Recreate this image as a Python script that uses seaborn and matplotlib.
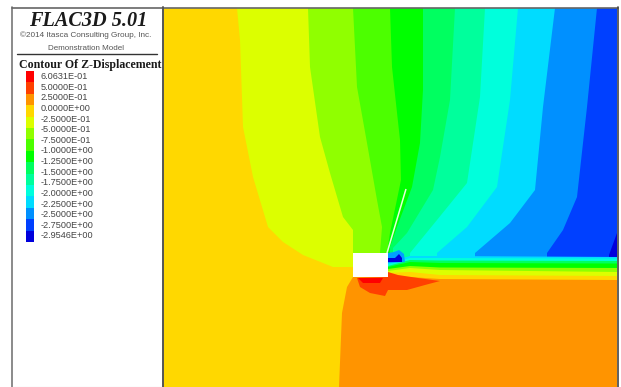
import numpy as np
import matplotlib
matplotlib.use("Agg")
import matplotlib.pyplot as plt
from matplotlib.colors import ListedColormap
import seaborn as sns

# Legend values and colours (top to bottom)
level_labels = ["6.0631E-01", "5.0000E-01", "2.5000E-01", "0.0000E+00", "-2.5000E-01",
                "-5.0000E-01", "-7.5000E-01", "-1.0000E+00", "-1.2500E+00", "-1.5000E+00",
                "-1.7500E+00", "-2.0000E+00", "-2.2500E+00", "-2.5000E+00", "-2.7500E+00",
                "-2.9546E+00"]
band_colors = ["#ff0000", "#ff4000", "#ff9400", "#ffd800", "#dcff00", "#90ff00", "#4cff00",
               "#00ff00", "#00ff60", "#00ff9c", "#00ffdc", "#00dcff", "#0090ff", "#0040ff",
               "#0000dc"]

# Contour boundaries above the strip
b_yellow = [(237, 8), (240, 40), (243, 127), (253, 177), (268, 227), (283, 242), (303, 255), (333, 267), (353, 267)]
b_lime = [(308, 8), (310, 67), (320, 137), (330, 173), (343, 217), (353, 230), (353, 253)]
b_grass = [(353, 8), (357, 87), (367, 143), (377, 200), (382, 227), (380, 253)]
b_green = [(390, 8), (392, 67), (400, 140), (401, 180), (390, 233), (387, 253)]
b_spring = [(423, 8), (423, 90), (420, 143), (412, 187), (397, 227), (390, 247)]
b_mint = [(455, 8), (450, 100), (440, 157), (433, 190), (407, 233), (393, 248)]
b_aqua = [(485, 8), (480, 97), (467, 183), (437, 220), (410, 253)]
b_sky = [(518, 8), (510, 100), (497, 187), (467, 227), (437, 253)]
b_azure = [(555, 8), (543, 107), (535, 190), (510, 223), (475, 253)]
b_blue = [(597, 8), (587, 107), (577, 197), (563, 230), (547, 253)]
b_navy = [(617, 233), (609, 255)]
upper_bounds = [(b_yellow, "#dcff00"), (b_lime, "#90ff00"), (b_grass, "#4cff00"), (b_green, "#00ff00"),
                (b_spring, "#00ff60"), (b_mint, "#00ff9c"), (b_aqua, "#00ffdc"), (b_sky, "#00dcff"),
                (b_azure, "#0090ff"), (b_blue, "#0040ff"), (b_navy, "#0000dc")]

# Horizontal strip right of the opening
strip_x = [388, 410, 440, 617]
strip_tops = [("#00dcff", [262, 256, 256, 257]),
              ("#00ffdc", [264, 258, 258, 258.5]),
              ("#00ff60", [266, 260, 260.5, 261]),
              ("#00ff00", [267, 262, 263, 263.5]),
              ("#90ff00", [269, 266, 267.5, 268]),
              ("#dcff00", [271, 268, 270, 272]),
              ("#ffd800", [273, 272, 275, 276])]

# Lower regions
orange_region = [(353, 277), (347, 287), (342, 313), (339, 387), (617, 387), (617, 280), (440, 279), (410, 277), (388, 277)]
redorange_region = [(357, 278), (360, 287), (370, 293), (385, 296), (388, 290), (407, 290), (425, 285),
                    (440, 281), (418, 278), (398, 275), (388, 272), (388, 277)]
red_region = [(358, 278), (363, 283), (380, 283), (383, 278)]
blob_halo = [(388, 253), (394, 252), (399, 250), (404, 254), (405, 262), (388, 263)]
blob_core = [(388, 258), (395, 258), (399, 254), (402, 258), (402, 262), (388, 262)]
opening = [(353, 253), (388, 253), (388, 277), (353, 277)]
cable_x = [387, 406]
cable_y = [253, 189]

sns.set_theme(style="white")
fig = plt.figure(figsize=(6.21, 3.87), dpi=100)
ax = fig.add_axes([0, 0, 1, 1])
ax.set_xlim(0, 621)
ax.set_ylim(387, 0)
ax.axis("off")

# Model area
ax.fill([163, 617, 617, 163], [8, 8, 387, 387], color="#ffd800", lw=0)
for i, (bound, col) in enumerate(upper_bounds):
    pts = list(bound)
    if i > 0:
        pts = pts + [(pts[-1][0], 262)]
    pts = pts + [(617, pts[-1][1])]
    if bound[0][1] == 8:
        pts = pts + [(617, 8)]
    xs, ys = zip(*pts)
    ax.fill(xs, ys, color=col, lw=0)

for col, tops in strip_tops:
    xs = strip_x + strip_x[::-1]
    ys = tops + [290] * len(strip_x)
    ax.fill(xs, ys, color=col, lw=0)

for poly, col in [(orange_region, "#ff9400"), (redorange_region, "#ff4000"), (red_region, "#ff0000"),
                  (blob_halo, "#00a0ff"), (blob_core, "#0000dc"), (opening, "#ffffff")]:
    xs, ys = zip(*poly)
    ax.fill(xs, ys, color=col, lw=0)
ax.plot(cable_x, cable_y, color="#e6ffd8", lw=1.1, solid_capstyle="butt")

# Frames
ax.plot([12, 12], [7, 387], color="#777777", lw=1.2)
ax.plot([12, 617.5], [7.5, 7.5], color="#666666", lw=1.2)
ax.plot([162.5, 162.5], [7, 387], color="#555555", lw=1.4)
ax.plot([617.5, 617.5], [7, 387], color="#444444", lw=1.2)
ax.plot([12, 162], [386.5, 386.5], color="#cccccc", lw=0.8)

# Legend text
ax.text(88, 21, "FLAC3D 5.01", family="Liberation Serif", weight="bold", style="italic",
        fontsize=14.6, color="#1a1a1a", ha="center", va="center")
ax.text(86, 35, "©2014 Itasca Consulting Group, Inc.", family="Liberation Sans", fontsize=5.9,
        color="#555555", ha="center", va="center")
ax.text(86.5, 48, "Demonstration Model", family="Liberation Sans", fontsize=5.8,
        color="#555555", ha="center", va="center")
ax.plot([17, 157], [54, 54], color="#333333", lw=1.0)
ax.text(19, 65, "Contour Of Z-Displacement", family="Liberation Serif", weight="bold",
        fontsize=8.55, color="#1a1a1a", ha="left", va="center")
for lab, y in zip(level_labels, np.linspace(76.5, 236, len(level_labels))):
    ax.text(40.5, y, lab, family="Liberation Sans", fontsize=6.6,
            color="#444444", ha="left", va="center")

# Legend colour bar
cax = fig.add_axes([26 / 621, 1 - 242 / 387, 8 / 621, 171 / 387])
sns.heatmap(np.arange(len(band_colors)).reshape(-1, 1), cmap=ListedColormap(band_colors), cbar=False,
            xticklabels=False, yticklabels=False, ax=cax)

fig.savefig("out.png", dpi=100)
